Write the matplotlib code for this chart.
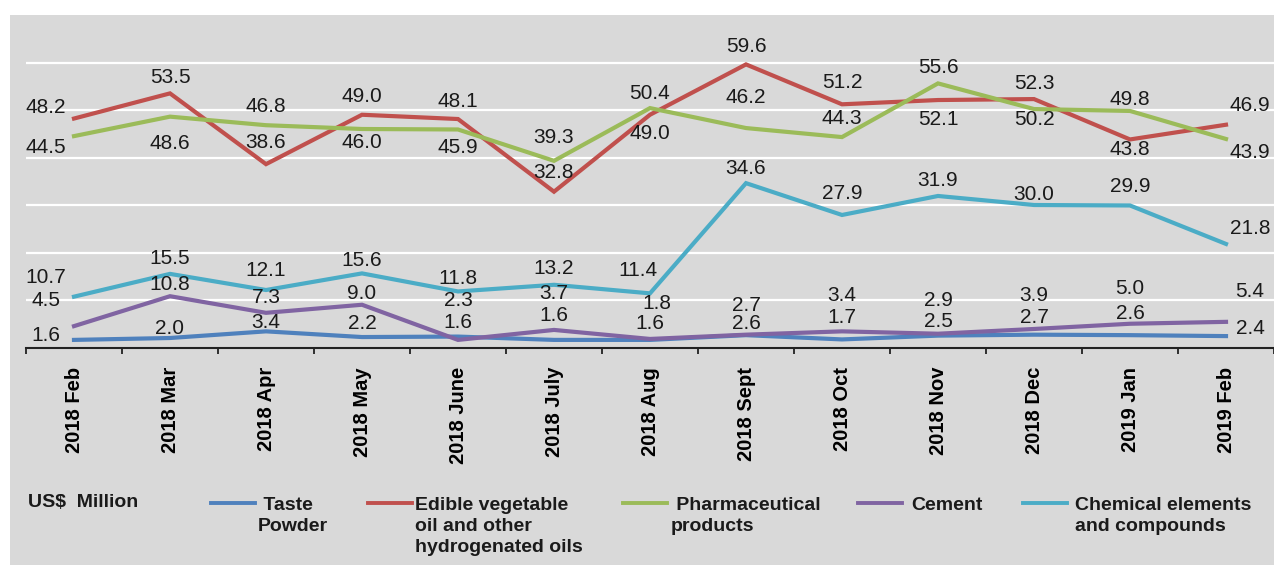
import numpy as np
import matplotlib
matplotlib.use("Agg")
import matplotlib.pyplot as plt
from matplotlib.patches import Rectangle
from matplotlib.lines import Line2D

plt.rcParams["font.family"] = ["Liberation Sans", "DejaVu Sans"]

# ── data (US$ million) ──
months = ["2018 Feb", "2018 Mar", "2018 Apr", "2018 May", "2018 June", "2018 July",
          "2018 Aug", "2018 Sept", "2018 Oct", "2018 Nov", "2018 Dec", "2019 Jan", "2019 Feb"]
taste_powder = [1.6, 2.0, 3.4, 2.2, 2.3, 1.6, 1.6, 2.6, 1.7, 2.5, 2.7, 2.6, 2.4]
edible_oil   = [48.2, 53.5, 38.6, 49.0, 48.1, 32.8, 49.0, 59.6, 51.2, 52.1, 52.3, 43.8, 46.9]
pharma       = [44.5, 48.6, 46.8, 46.0, 45.9, 39.3, 50.4, 46.2, 44.3, 55.6, 50.2, 49.8, 43.9]
cement       = [4.5, 10.8, 7.3, 9.0, 1.6, 3.7, 1.8, 2.7, 3.4, 2.9, 3.9, 5.0, 5.4]
chemicals    = [10.7, 15.5, 12.1, 15.6, 11.8, 13.2, 11.4, 34.6, 27.9, 31.9, 30.0, 29.9, 21.8]

# ── label placement (pixel offsets from the point, up = positive) ──
dy_oil    = [11, 16, 22, 18, 18, 19, -19, 18, 22, -19, 16, -10, 19]
dy_pharma = [-11, -27, 19, -14, -18, 23, 15, 31, 19, 16, -10, 11, -14]
dy_chem   = [19, 15, 20, 13, 13, 16, 23, 15, 21, 15, 11, 19, 15]
dy_cement = [26, 12, 15, 11, 17, 36, 35, 29, 36, 33, 33, 35, 30]
dy_taste  = [4, 10, 9, 14, 36, 24, 16, 12, 22, 14, 17, 22, 8]

BG = "#D9D9D9"
series = [
    # values, colour, label offsets, legend text, legend x (px), text x (px)
    (taste_powder, "#4F81BD", dy_taste,  " Taste\nPowder", 211, 258),
    (edible_oil,   "#C0504D", dy_oil,    "Edible vegetable\noil and other\nhydrogenated oils", 368, 415),
    (pharma,       "#9BBB59", dy_pharma, " Pharmaceutical\nproducts", 623, 671),
    (cement,       "#8064A2", dy_cement, "Cement", 858, 911),
    (chemicals,    "#4BACC6", dy_chem,   "Chemical elements\nand compounds", 1023, 1075),
]

W, H = 1274, 565
fig = plt.figure(figsize=(W / 100, H / 100), dpi=100)
fig.patch.set_facecolor("white")
fig.patches.append(Rectangle((10 / W, 0), 1 - 10 / W, 1 - 15 / H,
                             transform=fig.transFigure, facecolor=BG,
                             edgecolor="none", zorder=-5))

ax = fig.add_axes([26 / W, 1 - 347.5 / H, 1 - 26 / W, (347.5 - 15) / H])
ax.set_facecolor("none")
x = np.arange(len(months))

for vals, col, dys, _, _, _ in series:
    ax.plot(x, vals, color=col, lw=3.0, solid_joinstyle="miter", zorder=3)
    for i, (v, dy) in enumerate(zip(vals, dys)):
        dx = -28 if i == 0 else (24 if i == len(months) - 1 else 0)
        if vals is chemicals and i == 6:
            dx = -12
        if vals is cement and i == 6:
            dx = 7
        ax.annotate(f"{v:.1f}", (i, v), xytext=(dx, dy), textcoords="offset pixels",
                    ha="center", va="center", fontsize=15, color="#1A1A1A", zorder=4)

ax.set_xlim(-0.5, len(months) - 0.5)
ax.set_ylim(0, 70)
ax.set_yticks(np.arange(10, 70, 10))
ax.yaxis.grid(True, color="white", lw=1.6)
ax.set_axisbelow(True)
ax.tick_params(axis="y", left=False, labelleft=False)

# ticks between categories, labels at centers
ax.set_xticks(np.arange(-0.5, len(months), 1))
ax.set_xticklabels([])
ax.set_xticks(x, minor=True)
ax.set_xticklabels(months, minor=True, rotation=90, fontsize=14.5, fontweight="bold")
ax.tick_params(axis="x", which="major", direction="out", length=4.5, width=1.3, color="#222222")
ax.tick_params(axis="x", which="minor", length=0, pad=14)

for s in ["top", "right", "left"]:
    ax.spines[s].set_visible(False)
ax.spines["bottom"].set_linewidth(1.5)
ax.spines["bottom"].set_color("#222222")

# ── legend row ──
fig.text(28 / W, 1 - 507 / H, "US$  Million", fontsize=14, fontweight="bold",
         va="baseline", ha="left", color="#1A1A1A")
for vals, col, _, name, hx, tx in series:
    fig.add_artist(Line2D([hx / W, (hx + 44) / W], [1 - 503 / H] * 2,
                          transform=fig.transFigure, color=col, lw=2.8))
    fig.text(tx / W, 1 - 497 / H, name, fontsize=14, fontweight="bold", va="top",
             ha="left", color="#1A1A1A", linespacing=1.3)

fig.savefig("out.png", dpi=100, facecolor=fig.get_facecolor())
